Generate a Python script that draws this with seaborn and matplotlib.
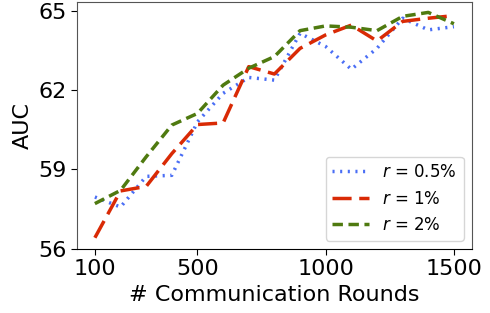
import matplotlib
matplotlib.use('Agg')
import matplotlib.pyplot as plt
import seaborn as sns
import pandas as pd

rounds = [100, 200, 300, 400, 500, 600, 700, 800, 900, 1000, 1100, 1200, 1300, 1400, 1500]
auc_r05 = [57.96, 57.58, 58.74, 58.78, 60.8, 61.88, 62.48, 62.38, 64.15, 63.65, 62.79, 63.58, 64.72, 64.28, 64.4]
auc_r1 = [56.42, 58.19, 58.36, 59.6, 60.7, 60.76, 62.89, 62.61, 63.58, 64.09, 64.46, 63.86, 64.6, 64.72, 64.82]
auc_r2 = [57.71, 58.21, 59.48, 60.68, 61.12, 62.19, 62.83, 63.27, 64.25, 64.43, 64.38, 64.25, 64.79, 64.94, 64.51]
labels = [r'$r$ = 0.5%', r'$r$ = 1%', r'$r$ = 2%']

df = pd.DataFrame({
    'round': rounds * 3,
    'auc': auc_r05 + auc_r1 + auc_r2,
    'setting': [labels[0]] * 15 + [labels[1]] * 15 + [labels[2]] * 15,
})

sns.set_style('ticks', {'text.color': 'black', 'axes.labelcolor': 'black',
                        'xtick.color': 'black', 'ytick.color': 'black'})
plt.rcParams['font.family'] = ['DejaVu Sans']

fig, ax = plt.subplots(figsize=(4.9, 3.13), dpi=100)
fig.subplots_adjust(left=0.157, right=0.963, bottom=0.205, top=0.995)

palette = {labels[0]: '#4a6ef5', labels[1]: '#d92a05', labels[2]: '#4f7a10'}
dashes = {labels[0]: (0.6, 1.6), labels[1]: (5.5, 2.2), labels[2]: (3.0, 1.6)}
sns.lineplot(data=df, x='round', y='auc', hue='setting', style='setting',
             palette=palette, dashes=dashes, linewidth=2.5, ax=ax)

ax.set_ylim(56, 65.35)
ax.set_xlim(30, 1570)
ax.set_xticks([100, 500, 1000, 1500])
ax.set_yticks([56, 59, 62, 65])
ax.tick_params(labelsize=16, length=4, color='black')
ax.set_xlabel('# Communication Rounds', fontsize=16)
ax.set_ylabel('AUC', fontsize=16)
for side in ['left', 'top', 'right']:
    ax.spines[side].set_color('#555555')
ax.spines['bottom'].set_color('black')
ax.legend(title=None, loc='lower right', fontsize=12, handlelength=2.2)

plt.savefig('out.png', dpi=100)
